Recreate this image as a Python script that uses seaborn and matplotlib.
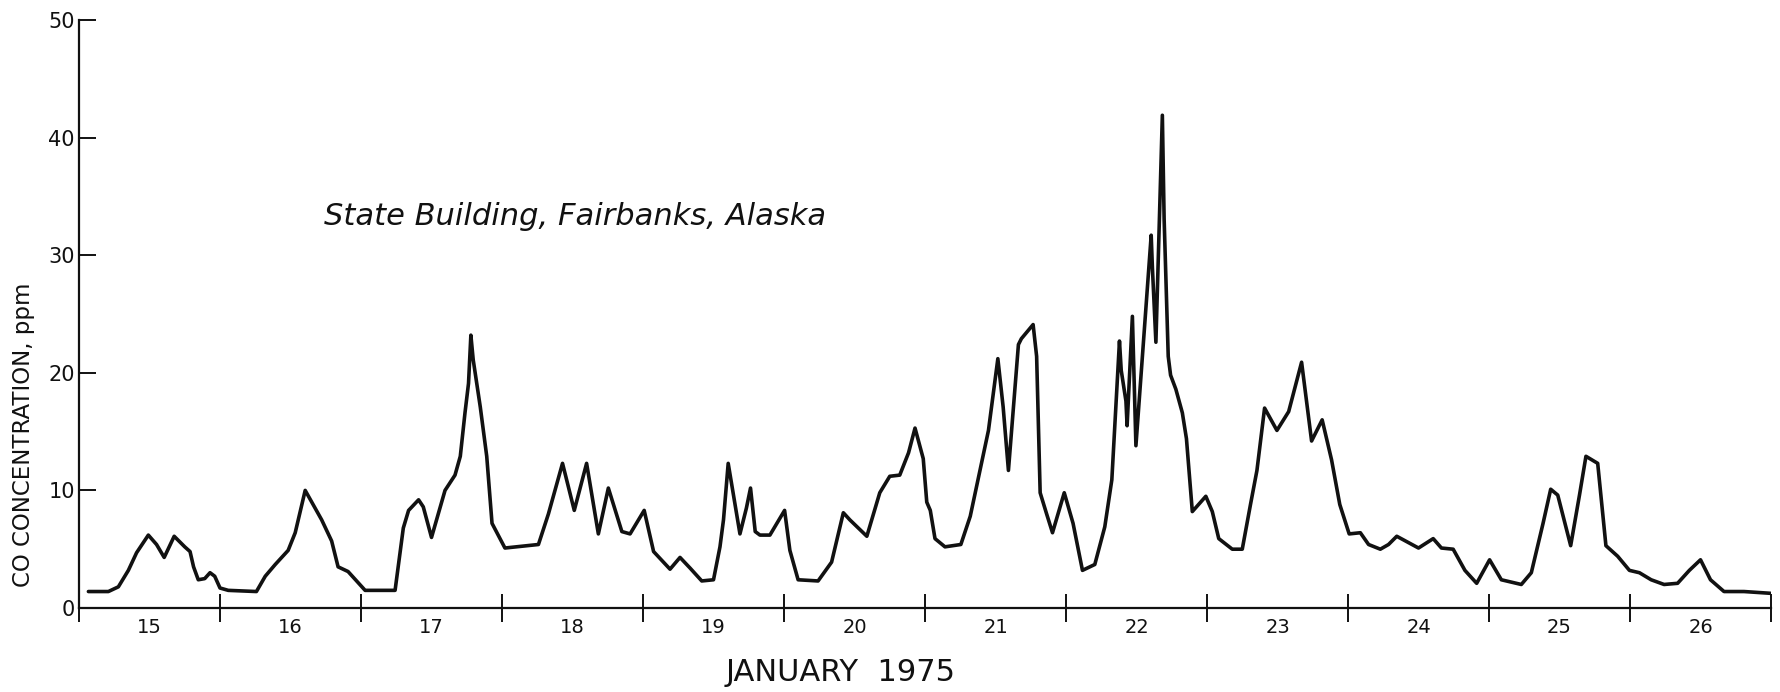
import numpy as np
import pandas as pd
import seaborn as sns
import matplotlib.pyplot as plt
from matplotlib.ticker import FixedLocator, FixedFormatter, NullFormatter

# CO readings: hours after 00:00 on January 15, 1975, and ppm
hours = [1.6, 5.0, 6.7, 8.4, 9.8, 11.8, 13.2, 14.5, 16.2, 18.0, 18.9, 19.5, 20.3, 21.4, 22.3, 23.1,
         24.0, 25.4, 30.2, 31.7, 33.4, 35.6, 36.8, 38.5, 41.3, 43.0, 44.1, 45.8, 48.7,
         53.8, 55.2, 56.1, 57.8, 58.6, 60.0, 62.3, 64.0, 64.9, 65.7, 66.3, 66.7, 67.1, 68.3, 69.4,
         70.3, 72.5, 78.2, 79.9, 82.3, 84.3, 86.4, 88.4, 90.1, 92.4, 93.8, 96.2, 97.8, 100.6,
         102.3, 104.0, 106.0, 108.0, 109.1, 109.7, 110.5, 112.5, 113.6, 114.3, 115.1, 115.9,
         117.6, 120.1, 121.0, 122.4, 125.8, 128.1, 130.1, 131.2, 134.1, 136.3, 138.0, 139.7,
         141.2, 142.3, 143.7, 144.3, 144.9, 145.7, 147.4, 150.1, 151.7, 154.8, 156.4, 157.3,
         158.2, 159.9, 160.4, 162.4, 163.0, 163.6, 164.7, 165.7, 167.7, 169.2, 170.8, 172.9,
         174.6, 175.8, 177.1, 177.4, 178.2, 178.4, 179.3, 179.9, 182.5, 182.7, 183.3, 184.4,
         184.7, 185.4, 185.8, 186.7, 187.8, 188.5, 189.5, 191.8, 192.9, 194.0, 196.3, 198.0,
         199.4, 200.5, 201.8, 203.9, 205.9, 208.1, 209.8, 211.6, 213.2, 214.6, 216.2, 218.1,
         219.5, 221.5, 222.9, 224.3, 228.0, 230.5, 231.9, 233.9, 235.9, 237.9, 240.1, 242.1,
         245.5, 247.2, 249.2, 250.5, 251.7, 253.9, 255.4, 256.5, 258.5, 259.9, 261.9, 263.9,
         265.6, 267.6, 269.8, 272.1, 274.1, 276.0, 277.7, 280.0, 283.4, 287.9]
co_ppm = [1.4, 1.4, 1.8, 3.2, 4.7, 6.2, 5.4, 4.3, 6.1, 5.2, 4.8, 3.5, 2.4, 2.5, 3.0, 2.7,
          1.7, 1.5, 1.4, 2.7, 3.7, 4.9, 6.4, 10.0, 7.5, 5.7, 3.5, 3.1, 1.5,
          1.5, 6.8, 8.3, 9.2, 8.6, 6.0, 10.0, 11.3, 12.9, 16.6, 19.1, 23.2, 21.1, 17.1, 12.9,
          7.2, 5.1, 5.4, 8.0, 12.3, 8.3, 12.3, 6.3, 10.2, 6.5, 6.3, 8.3, 4.8, 3.3,
          4.3, 3.4, 2.3, 2.4, 5.2, 7.5, 12.3, 6.3, 8.5, 10.2, 6.5, 6.2,
          6.2, 8.3, 4.9, 2.4, 2.3, 3.9, 8.1, 7.5, 6.1, 9.8, 11.2, 11.3,
          13.2, 15.3, 12.7, 9.0, 8.3, 5.9, 5.2, 5.4, 7.8, 15.1, 21.2, 17.1,
          11.7, 22.4, 22.9, 24.1, 21.4, 9.8, 8.0, 6.4, 9.8, 7.2, 3.2, 3.7,
          6.9, 10.9, 22.7, 20.2, 17.6, 15.5, 24.8, 13.8, 31.7, 29.0, 22.6, 41.9,
          33.1, 21.4, 19.8, 18.6, 16.6, 14.4, 8.2, 9.5, 8.2, 5.9, 5.0, 5.0,
          8.8, 11.7, 17.0, 15.1, 16.7, 20.9, 14.2, 16.0, 12.6, 8.8, 6.3, 6.4,
          5.4, 5.0, 5.4, 6.1, 5.1, 5.9, 5.1, 5.0, 3.2, 2.1, 4.1, 2.4,
          2.0, 3.0, 7.2, 10.1, 9.6, 5.3, 9.6, 12.9, 12.3, 5.3, 4.4, 3.2,
          3.0, 2.4, 2.0, 2.1, 3.2, 4.1, 2.4, 1.4, 1.4, 1.25]

day_labels = ['15', '16', '17', '18', '19', '20', '21', '22', '23', '24', '25', '26']
day_bounds = [15, 16, 17, 18, 19, 20, 21, 22, 23, 24, 25, 26, 27]
y_ticks = [0, 10, 20, 30, 40, 50]

df = pd.DataFrame({'day': 15 + np.array(hours) / 24.0, 'co': co_ppm})

sns.set_style('ticks')
plt.rcParams['font.family'] = ['DejaVu Sans']

fig = plt.figure(figsize=(17.81, 6.92), dpi=100)
ax = fig.add_axes([0.04436, 0.12139, 0.95003, 0.84971])

sns.lineplot(data=df, x='day', y='co', estimator=None, color='#111111', lw=2.6, ax=ax)

ax.set_xlim(15, 27)
ax.set_ylim(0, 50)
sns.despine(ax=ax)
for s in ['left', 'bottom']:
    ax.spines[s].set_linewidth(1.6)
    ax.spines[s].set_color('#111111')

# day boundaries as crossing ticks, day names centred between them
ax.xaxis.set_major_locator(FixedLocator(day_bounds))
ax.xaxis.set_major_formatter(NullFormatter())
ax.xaxis.set_minor_locator(FixedLocator([b + 0.5 for b in day_bounds[:-1]]))
ax.xaxis.set_minor_formatter(FixedFormatter(day_labels))
ax.tick_params(axis='x', which='major', direction='inout', length=20, width=1.4, color='#111111')
ax.tick_params(axis='x', which='minor', length=0, pad=7, labelsize=14, labelcolor='#111111')

ax.set_yticks(y_ticks)
ax.tick_params(axis='y', direction='in', length=12, width=1.4, pad=3, labelsize=15,
               color='#111111', labelcolor='#111111')

ax.set_xlabel('JANUARY  1975', fontsize=22, color='#111111')
ax.xaxis.set_label_coords(0.45, -0.109)
ax.xaxis.label.set_va('center')
ax.set_ylabel('CO CONCENTRATION, ppm', fontsize=16.5, color='#111111')
ax.yaxis.set_label_coords(-0.033, 0.294)
ax.yaxis.label.set_va('center')

ax.text(0.1448, 0.651, 'State Building, Fairbanks, Alaska', transform=ax.transAxes,
        fontsize=22, style='italic', va='baseline', ha='left', color='#111111')

plt.savefig('out.png', dpi=100)
